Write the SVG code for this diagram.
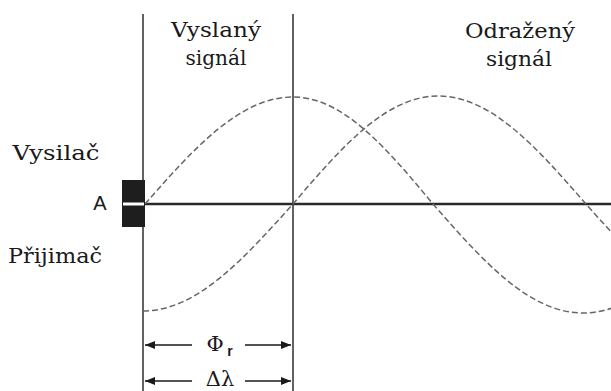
<svg xmlns="http://www.w3.org/2000/svg" width="611" height="391" viewBox="0 0 611 391">
<defs>
<style>
.serif{font-size:21px;fill:#1a1a1a;text-anchor:middle}
.sans{fill:#1a1a1a}
.axis{stroke:#3a3a3a;stroke-width:1.6;fill:none}
.wave{stroke:#666;stroke-width:1.5;fill:none;stroke-dasharray:6 3}
.dim{stroke:#1a1a1a;stroke-width:1.5;fill:none}
</style>
<marker id="ah" viewBox="0 0 10 8" refX="10" refY="4" markerWidth="10" markerHeight="8" markerUnits="userSpaceOnUse" orient="auto">
<path d="M0,0 L10,4 L0,8 Z" fill="#1a1a1a"/>
</marker>
</defs>
<rect width="611" height="391" fill="#fff"/>
<g id="connectors">
<line class="axis" x1="143" y1="14" x2="143" y2="391"/>
<line class="axis" x1="293" y1="14" x2="293" y2="391"/>
<line x1="145" y1="204" x2="611" y2="204" stroke="#2a2a2a" stroke-width="2.5"/>
<path id="wave-sent" class="wave" d="M145,204 C193.3,149.2 239.4,97 293,97 C343.7,97 387.3,149.2 433,204 C481.9,259.8 528.7,313 583,313 C637.3,313 684.1,259.8 733,204"/>
<path id="wave-reflected" class="wave" d="M143,311 C197.3,311 244.1,258.2 293,204 C340.3,148.7 385.5,96 438,96 C491.6,96 537.7,148.7 586,204 C634.9,258.8 681.7,311 736,311"/>
<line class="dim" x1="192" y1="345" x2="145" y2="345" marker-end="url(#ah)"/>
<line class="dim" x1="245" y1="345" x2="291" y2="345" marker-end="url(#ah)"/>
<line class="dim" x1="192" y1="381" x2="145" y2="381" marker-end="url(#ah)"/>
<line class="dim" x1="245" y1="381" x2="291" y2="381" marker-end="url(#ah)"/>
</g>
<g id="antenna">
<rect x="122" y="180" width="23" height="47" fill="#1e1e1e"/>
<rect x="123" y="202.5" width="21" height="3" fill="#fff"/>
<text class="sans" font-family="Liberation Sans, Arial, sans-serif" x="100" y="210" font-size="20" text-anchor="middle">A</text>
</g>
<g id="label-sent" font-family="DejaVu Serif, serif">
<text class="serif" x="216" y="37" textLength="90" lengthAdjust="spacingAndGlyphs">Vyslaný</text>
<text class="serif" x="216" y="65" textLength="61" lengthAdjust="spacingAndGlyphs">signál</text>
</g>
<g id="label-reflected" font-family="DejaVu Serif, serif">
<text class="serif" x="520" y="38" textLength="110" lengthAdjust="spacingAndGlyphs">Odražený</text>
<text class="serif" x="519" y="66" textLength="66" lengthAdjust="spacingAndGlyphs">signál</text>
</g>
<g id="label-tx" font-family="DejaVu Serif, serif">
<text class="serif" x="56" y="160" textLength="87" lengthAdjust="spacingAndGlyphs">Vysilač</text>
</g>
<g id="label-rx" font-family="DejaVu Serif, serif">
<text class="serif" x="55" y="263" textLength="94" lengthAdjust="spacingAndGlyphs">Přijimač</text>
</g>
<g id="label-phi">
<text class="serif" font-family="DejaVu Serif, serif" x="215" y="351" font-size="18">Φ</text>
<text class="sans" font-family="Liberation Sans, Arial, sans-serif" x="230" y="356" font-size="14" font-weight="bold" fill="#2a3f7a" text-anchor="middle">r</text>
</g>
<g id="label-dlambda">
<text class="serif" font-family="DejaVu Serif, serif" x="220" y="386" font-size="16">Δλ</text>
</g>
</svg>
